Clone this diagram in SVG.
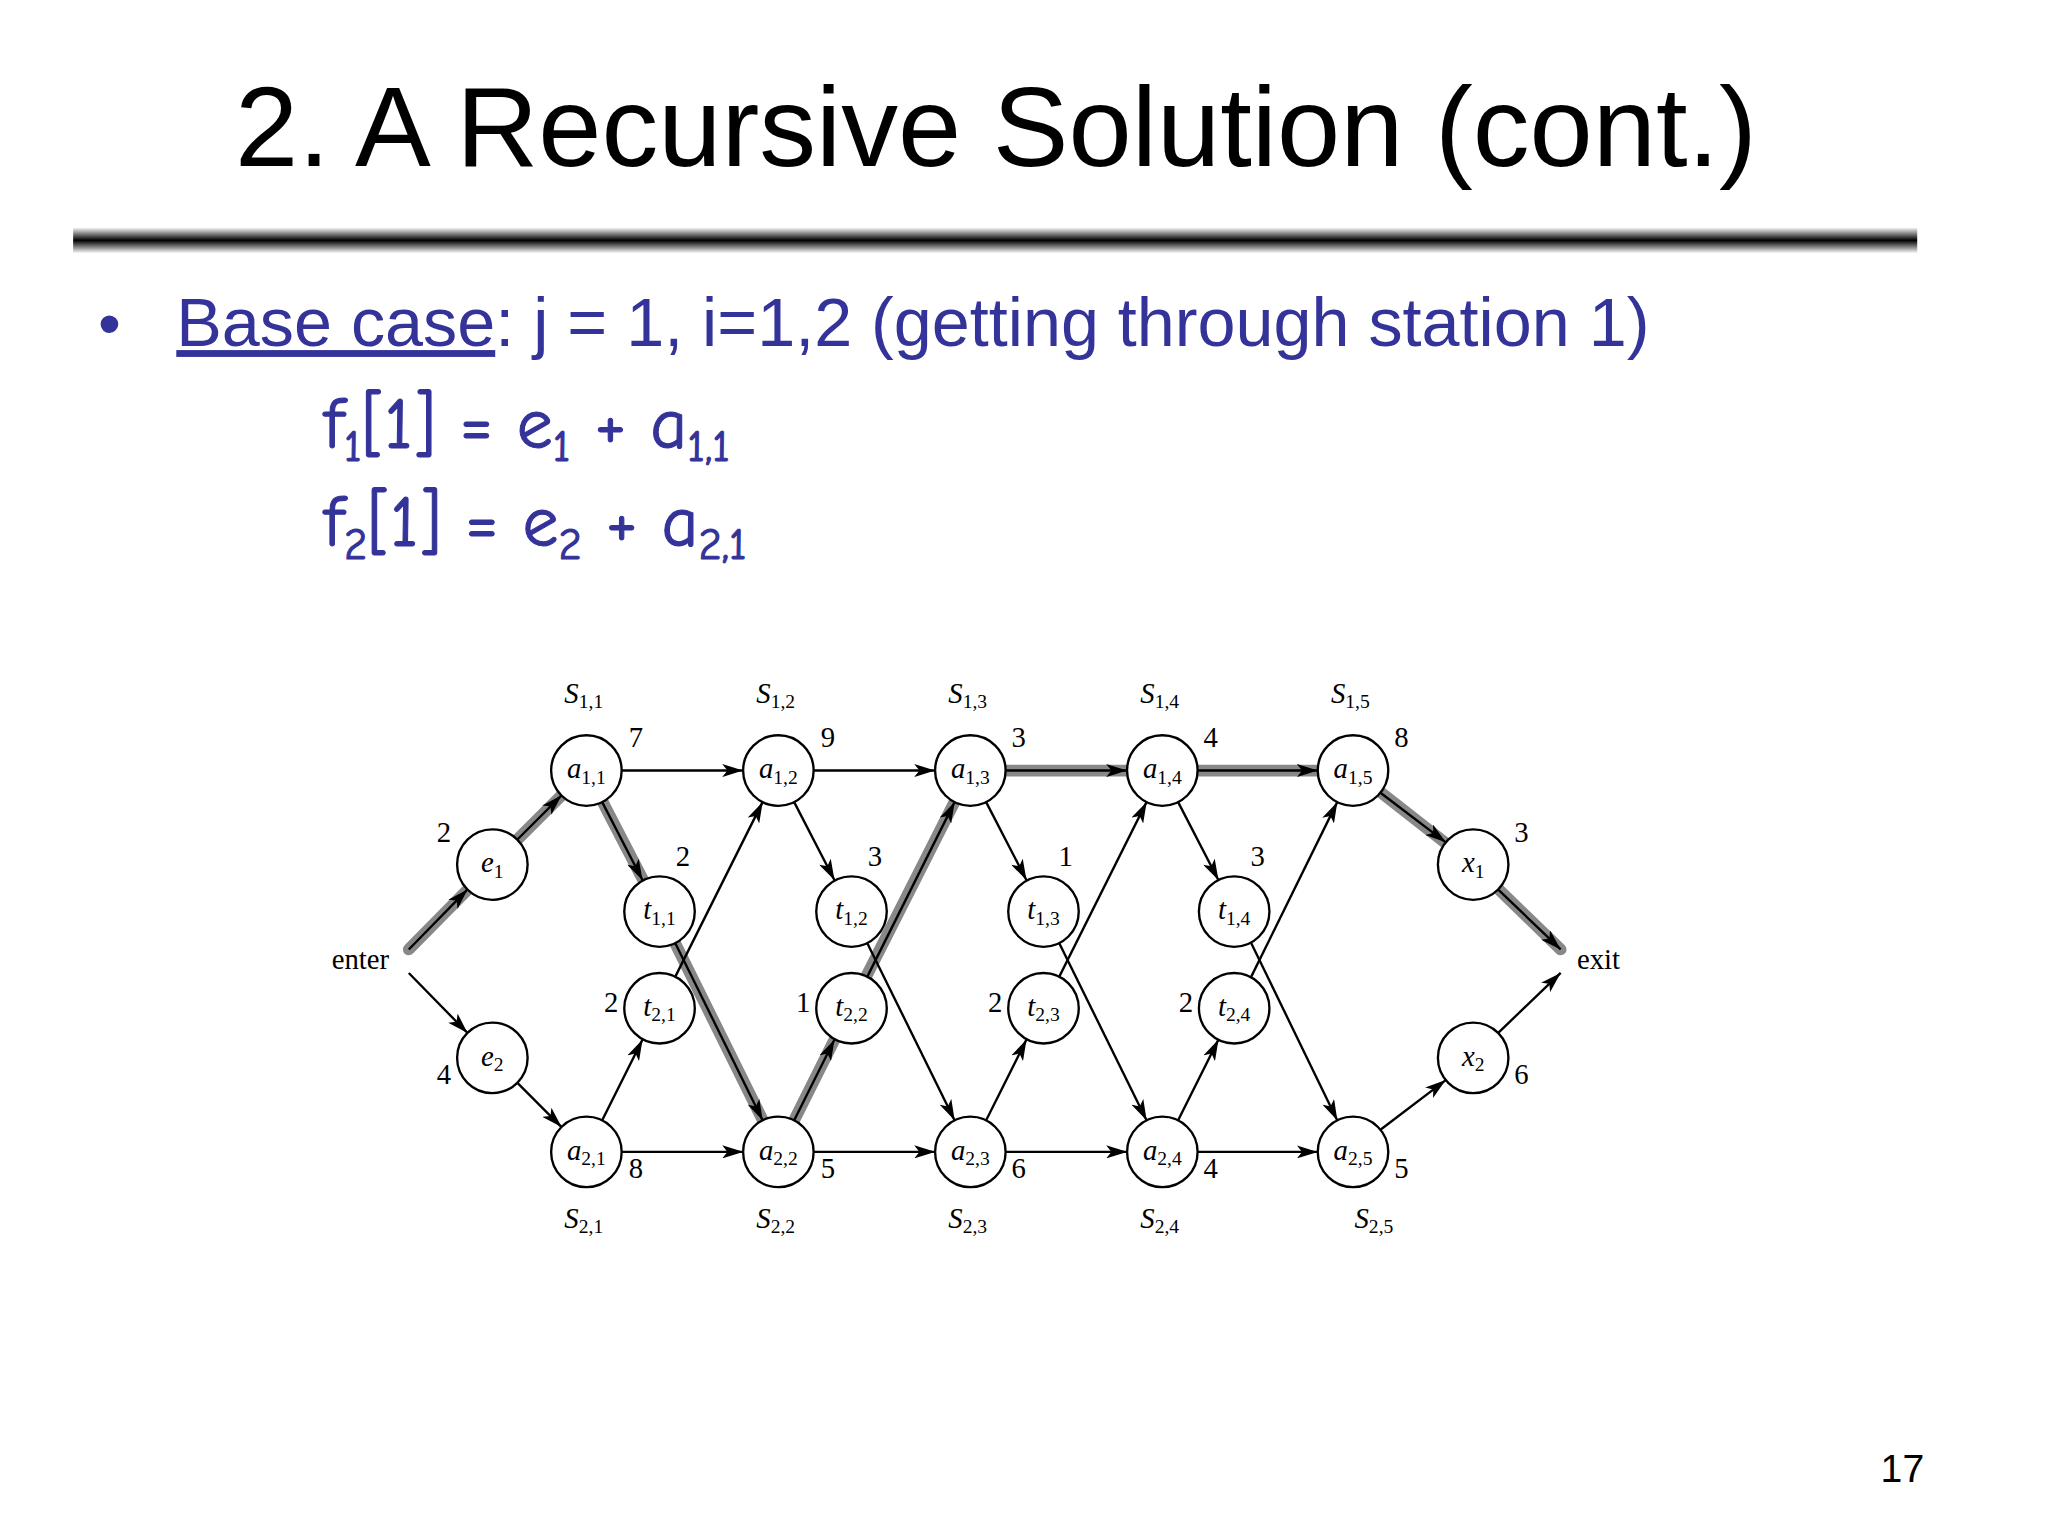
<svg xmlns="http://www.w3.org/2000/svg" width="2048" height="1536" viewBox="0 0 2048 1536">
<defs>
<linearGradient id="bar" x1="0" y1="0" x2="0" y2="1">
<stop offset="0" stop-color="#fff"/><stop offset="0.5" stop-color="#000"/><stop offset="1" stop-color="#fff"/>
</linearGradient>
<marker id="ar" viewBox="0 0 16 10" refX="16" refY="5" markerWidth="16" markerHeight="10" markerUnits="userSpaceOnUse" orient="auto">
<path d="M0,0 L16,5 L0,10 L4,5z" fill="#000"/>
</marker>
<style>
.e{stroke:#000;stroke-width:1.8;fill:none;marker-end:url(#ar)}
.h{stroke:#888;stroke-width:9;fill:none;stroke-linecap:round}
.n circle{fill:#fff;stroke:#000;stroke-width:1.8}
.lab{font-family:"Liberation Serif",serif;font-size:22px;fill:#000}
.it{font-style:italic}
.sub{font-size:15px;font-style:normal}
.blue{fill:#333399}
.fm{font-family:'Comic Neue','DejaVu Sans',sans-serif;font-size:55px;stroke:#333399;stroke-width:0.8}
</style>
</defs>
<rect width="2048" height="1536" fill="#fff"/>
<g transform="scale(1.306)">
<text x="180" y="127" font-family="Liberation Sans,sans-serif" font-size="87" fill="#000">2. A Recursive Solution (cont.)</text>
<rect x="56" y="174" width="1412" height="20" fill="url(#bar)"/>
<text x="75" y="265" font-family="Liberation Sans,sans-serif" font-size="50" class="blue">•</text>
<text x="135" y="265" font-family="Liberation Sans,sans-serif" font-size="52.3" class="blue"><tspan text-decoration="underline">Base case</tspan>: j = 1, i=1,2 (getting through station 1)</text>
<text x="248" y="343" class="fm blue">f<tspan font-size="34" dy="10">1</tspan><tspan dy="-10">[1] = e</tspan><tspan font-size="34" dy="10">1</tspan><tspan dy="-10"> + a</tspan><tspan font-size="34" dy="10">1,1</tspan></text>
<text x="248" y="418" class="fm blue">f<tspan font-size="34" dy="10">2</tspan><tspan dy="-10">[1] = e</tspan><tspan font-size="34" dy="10">2</tspan><tspan dy="-10"> + a</tspan><tspan font-size="34" dy="10">2,1</tspan></text>
<text x="1440" y="1135" font-family="Liberation Sans,sans-serif" font-size="30">17</text>

<g id="highlight">
<path class="h" d="M313,727 L377,662 L449,590 L505,698 L596,882 L651,772 L743,590 L1036,590 L1128,662 L1195,727"/>
</g>
<g id="connectors">
<line class="e" x1="313" y1="727" x2="358" y2="681"/>
<line class="e" x1="396" y1="643" x2="430" y2="609"/>
<line class="e" x1="313" y1="745" x2="358" y2="791"/>
<line class="e" x1="396" y1="829" x2="430" y2="863"/>
<line class="e" x1="476" y1="590" x2="569" y2="590"/>
<line class="e" x1="623" y1="590" x2="716" y2="590"/>
<line class="e" x1="770" y1="590" x2="863" y2="590"/>
<line class="e" x1="917" y1="590" x2="1009" y2="590"/>
<line class="e" x1="476" y1="882" x2="569" y2="882"/>
<line class="e" x1="623" y1="882" x2="716" y2="882"/>
<line class="e" x1="770" y1="882" x2="863" y2="882"/>
<line class="e" x1="917" y1="882" x2="1009" y2="882"/>
<line class="e" x1="461" y1="614" x2="492" y2="674"/>
<line class="e" x1="608" y1="614" x2="639" y2="674"/>
<line class="e" x1="755" y1="614" x2="786" y2="674"/>
<line class="e" x1="902" y1="614" x2="933" y2="674"/>
<line class="e" x1="517" y1="722" x2="584" y2="858"/>
<line class="e" x1="664" y1="722" x2="731" y2="858"/>
<line class="e" x1="811" y1="722" x2="878" y2="858"/>
<line class="e" x1="958" y1="722" x2="1024" y2="858"/>
<line class="e" x1="461" y1="858" x2="492" y2="796"/>
<line class="e" x1="608" y1="858" x2="639" y2="796"/>
<line class="e" x1="755" y1="858" x2="786" y2="796"/>
<line class="e" x1="902" y1="858" x2="933" y2="796"/>
<line class="e" x1="517" y1="748" x2="584" y2="614"/>
<line class="e" x1="664" y1="748" x2="731" y2="614"/>
<line class="e" x1="811" y1="748" x2="878" y2="614"/>
<line class="e" x1="958" y1="748" x2="1024" y2="614"/>
<line class="e" x1="1057" y1="607" x2="1107" y2="645"/>
<line class="e" x1="1057" y1="865" x2="1107" y2="827"/>
<line class="e" x1="1147" y1="681" x2="1195" y2="727"/>
<line class="e" x1="1147" y1="791" x2="1195" y2="745"/>
</g>

<g class="n lab it" text-anchor="middle">
<g id="e1"><circle cx="377" cy="662" r="27"/><text x="377" y="668">e<tspan class="sub" dy="4">1</tspan></text></g>
<g id="e2"><circle cx="377" cy="810" r="27"/><text x="377" y="816">e<tspan class="sub" dy="4">2</tspan></text></g>
<g id="a11"><circle cx="449" cy="590" r="27"/><text x="449" y="596">a<tspan class="sub" dy="4">1,1</tspan></text></g>
<g id="a12"><circle cx="596" cy="590" r="27"/><text x="596" y="596">a<tspan class="sub" dy="4">1,2</tspan></text></g>
<g id="a13"><circle cx="743" cy="590" r="27"/><text x="743" y="596">a<tspan class="sub" dy="4">1,3</tspan></text></g>
<g id="a14"><circle cx="890" cy="590" r="27"/><text x="890" y="596">a<tspan class="sub" dy="4">1,4</tspan></text></g>
<g id="a15"><circle cx="1036" cy="590" r="27"/><text x="1036" y="596">a<tspan class="sub" dy="4">1,5</tspan></text></g>
<g id="a21"><circle cx="449" cy="882" r="27"/><text x="449" y="888">a<tspan class="sub" dy="4">2,1</tspan></text></g>
<g id="a22"><circle cx="596" cy="882" r="27"/><text x="596" y="888">a<tspan class="sub" dy="4">2,2</tspan></text></g>
<g id="a23"><circle cx="743" cy="882" r="27"/><text x="743" y="888">a<tspan class="sub" dy="4">2,3</tspan></text></g>
<g id="a24"><circle cx="890" cy="882" r="27"/><text x="890" y="888">a<tspan class="sub" dy="4">2,4</tspan></text></g>
<g id="a25"><circle cx="1036" cy="882" r="27"/><text x="1036" y="888">a<tspan class="sub" dy="4">2,5</tspan></text></g>
<g id="t11"><circle cx="505" cy="698" r="27"/><text x="505" y="704">t<tspan class="sub" dy="4">1,1</tspan></text></g>
<g id="t12"><circle cx="652" cy="698" r="27"/><text x="652" y="704">t<tspan class="sub" dy="4">1,2</tspan></text></g>
<g id="t13"><circle cx="799" cy="698" r="27"/><text x="799" y="704">t<tspan class="sub" dy="4">1,3</tspan></text></g>
<g id="t14"><circle cx="945" cy="698" r="27"/><text x="945" y="704">t<tspan class="sub" dy="4">1,4</tspan></text></g>
<g id="t21"><circle cx="505" cy="772" r="27"/><text x="505" y="778">t<tspan class="sub" dy="4">2,1</tspan></text></g>
<g id="t22"><circle cx="652" cy="772" r="27"/><text x="652" y="778">t<tspan class="sub" dy="4">2,2</tspan></text></g>
<g id="t23"><circle cx="799" cy="772" r="27"/><text x="799" y="778">t<tspan class="sub" dy="4">2,3</tspan></text></g>
<g id="t24"><circle cx="945" cy="772" r="27"/><text x="945" y="778">t<tspan class="sub" dy="4">2,4</tspan></text></g>
<g id="x1"><circle cx="1128" cy="662" r="27"/><text x="1128" y="668">x<tspan class="sub" dy="4">1</tspan></text></g>
<g id="x2"><circle cx="1128" cy="810" r="27"/><text x="1128" y="816">x<tspan class="sub" dy="4">2</tspan></text></g>
</g>

<g id="labels" class="lab" text-anchor="middle">
<text x="276" y="742">enter</text><text x="1224" y="742">exit</text>
<text class="it" x="447" y="538">S<tspan class="sub" dy="4">1,1</tspan></text>
<text class="it" x="594" y="538">S<tspan class="sub" dy="4">1,2</tspan></text>
<text class="it" x="741" y="538">S<tspan class="sub" dy="4">1,3</tspan></text>
<text class="it" x="888" y="538">S<tspan class="sub" dy="4">1,4</tspan></text>
<text class="it" x="1034" y="538">S<tspan class="sub" dy="4">1,5</tspan></text>
<text class="it" x="447" y="940">S<tspan class="sub" dy="4">2,1</tspan></text>
<text class="it" x="594" y="940">S<tspan class="sub" dy="4">2,2</tspan></text>
<text class="it" x="741" y="940">S<tspan class="sub" dy="4">2,3</tspan></text>
<text class="it" x="888" y="940">S<tspan class="sub" dy="4">2,4</tspan></text>
<text class="it" x="1052" y="940">S<tspan class="sub" dy="4">2,5</tspan></text>
<text x="487" y="572">7</text><text x="634" y="572">9</text><text x="780" y="572">3</text><text x="927" y="572">4</text><text x="1073" y="572">8</text>
<text x="487" y="902">8</text><text x="634" y="902">5</text><text x="780" y="902">6</text><text x="927" y="902">4</text><text x="1073" y="902">5</text>
<text x="523" y="663">2</text><text x="670" y="663">3</text><text x="816" y="663">1</text><text x="963" y="663">3</text>
<text x="468" y="775">2</text><text x="615" y="775">1</text><text x="762" y="775">2</text><text x="908" y="775">2</text>
<text x="340" y="645">2</text><text x="340" y="830">4</text>
<text x="1165" y="645">3</text><text x="1165" y="830">6</text>
</g>
</g>
</svg>
